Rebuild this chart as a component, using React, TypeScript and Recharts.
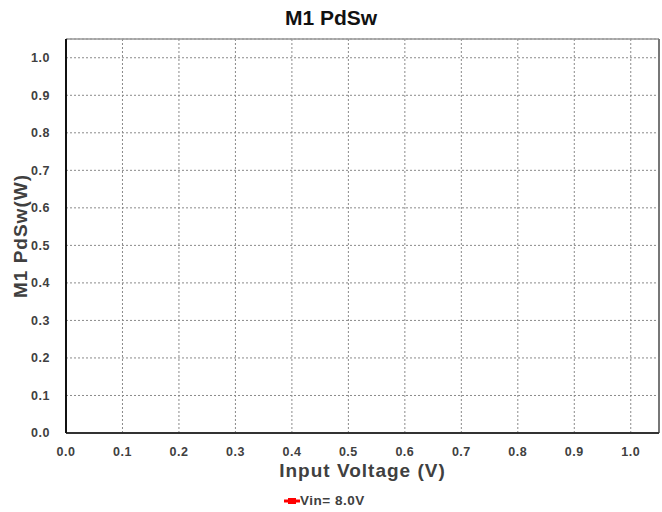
import {
  LineChart,
  Line,
  XAxis,
  YAxis,
  CartesianGrid,
  Legend,
  ReferenceLine,
  Label
} from "recharts";

// tick labels on both axes
const xTicks = [0, 0.1, 0.2, 0.3, 0.4, 0.5, 0.6, 0.7, 0.8, 0.9, 1.0];
const yTicks = [0, 0.1, 0.2, 0.3, 0.4, 0.5, 0.6, 0.7, 0.8, 0.9, 1.0];

// the only series has no points drawn in the picture
const seriesName = "Vin= 8.0V";
const vinVoltage: number[] = [];
const pdSw: number[] = [];

const data = vinVoltage.map((v, i) => ({ x: v, y: pdSw[i] }));

const font = "'Liberation Sans', Arial, sans-serif";
const tickStyle = { fontSize: 12.5, fontWeight: 700, fill: "#404040", fontFamily: font, letterSpacing: 0.5 };

function LegendBox() {
  return (
    <div style={{ display: "flex", alignItems: "center", marginLeft: 284, paddingTop: 12, fontFamily: font, fontWeight: 700, fontSize: 13.5, color: "#404040", letterSpacing: 0.5 }}>
      <svg width={16} height={8}>
        <line x1={0} y1={4} x2={16} y2={4} stroke="#ff0000" strokeWidth={3} />
        <rect x={4} y={1} width={8} height={6} fill="#ff0000" />
      </svg>
      <span>{seriesName}</span>
    </div>
  );
}

export default function App() {
  return (
    <div style={{ position: "absolute", left: 0, top: 0, width: 662, height: 512, background: "#fff" }}>
      <div style={{ position: "absolute", top: 6, width: 662, textAlign: "center", fontFamily: font, fontWeight: 700, fontSize: 21, color: "#111" }}>
        M1 PdSw
      </div>
      <LineChart width={662} height={512} data={data} margin={{ top: 39, right: 3, bottom: 0, left: 0 }}>
        <CartesianGrid stroke="#8a8a8a" strokeDasharray="2 2" horizontal vertical />
        <XAxis
          type="number"
          dataKey="x"
          domain={[0, 1.05]}
          ticks={xTicks}
          tickFormatter={(v: number) => v.toFixed(1)}
          tick={tickStyle}
          tickLine={false}
          axisLine={{ stroke: "#333", strokeWidth: 2 }}
          tickMargin={8}
          height={48}
          allowDataOverflow
        >
          <Label value="Input Voltage (V)" position="insideBottom" offset={4} style={{ fontSize: 19, fontWeight: 700, fill: "#404040", fontFamily: font, letterSpacing: 1 }} />
        </XAxis>
        <YAxis
          type="number"
          dataKey="y"
          domain={[0, 1.05]}
          ticks={yTicks}
          tickFormatter={(v: number) => v.toFixed(1)}
          tick={tickStyle}
          tickLine={false}
          axisLine={{ stroke: "#111", strokeWidth: 2 }}
          tickMargin={10}
          width={66}
          allowDataOverflow
        >
          <Label value="M1 PdSw(W)" angle={-90} position="insideLeft" offset={20} style={{ textAnchor: "middle", fontSize: 19, fontWeight: 700, fill: "#404040", fontFamily: font, letterSpacing: 1 }} />
        </YAxis>
        <ReferenceLine y={1.05} stroke="#999" strokeWidth={1.5} />
        <ReferenceLine x={1.05} stroke="#777" strokeWidth={2} />
        <Legend verticalAlign="bottom" height={31} content={<LegendBox />} />
        <Line
          type="linear"
          dataKey="y"
          name={seriesName}
          stroke="#ff0000"
          strokeWidth={2}
          dot={false}
          isAnimationActive={false}
        />
      </LineChart>
    </div>
  );
}
